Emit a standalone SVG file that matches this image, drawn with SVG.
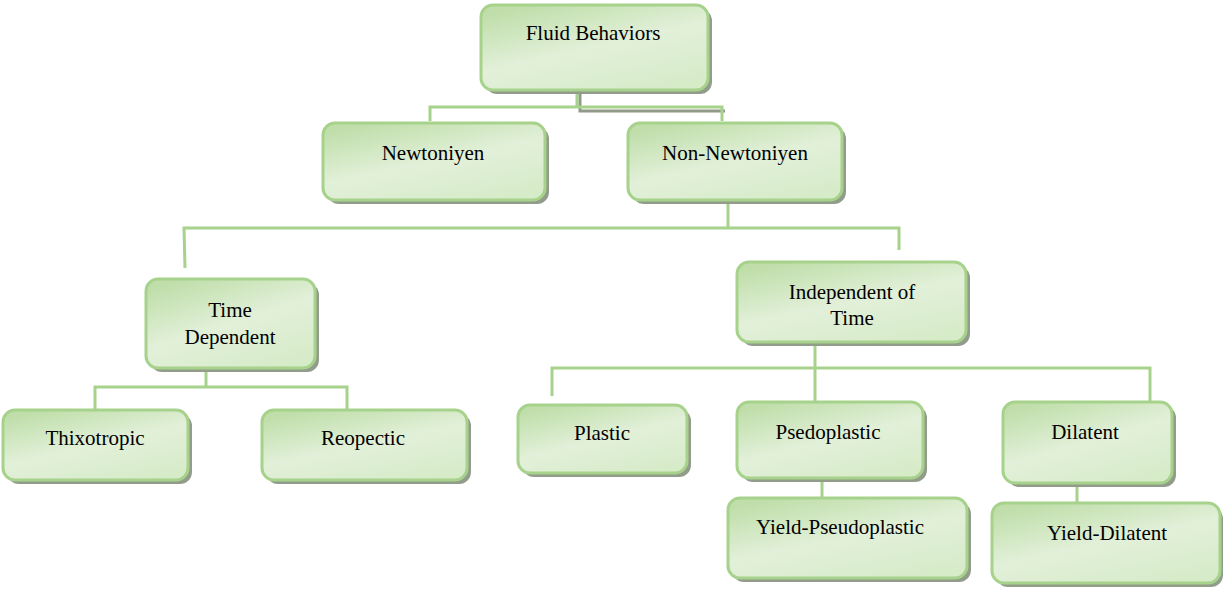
<svg xmlns="http://www.w3.org/2000/svg" width="1223" height="591" viewBox="0 0 1223 591">
  <defs>
    <linearGradient id="boxFill" x1="0.2" y1="0" x2="0.8" y2="1">
      <stop offset="0" stop-color="#bfdea9"/>
      <stop offset="0.5" stop-color="#e2f0d9"/>
      <stop offset="1" stop-color="#d6ebc8"/>
    </linearGradient>
  </defs>
  <style>
    .shadow { fill: #929c8b; }
    .box { fill: url(#boxFill); stroke: #a7d28c; stroke-width: 3; }
    .label { font-family: "Liberation Serif", Tinos, "Times New Roman", serif; font-size: 21px; fill: #000; text-anchor: middle; }
    .link { fill: none; stroke: #a7d28c; stroke-width: 3; }
    .linkShadow { fill: none; stroke: #8f9a88; stroke-width: 3; }
  </style>

  <rect width="1223" height="591" fill="#ffffff"/>

  <!-- connectors -->
  <g id="connectors">
    <polyline class="linkShadow" points="580,93 580,111 725,111"/>
    <polyline class="link" points="577,90 577,107"/>
    <polyline class="link" points="430,121 430,107 722,107 722,121"/>
    <polyline class="link" points="728,200 728,228"/>
    <polyline class="link" points="185,268 184,228 899,228 899,250"/>
    <polyline class="link" points="206,368 206,387"/>
    <polyline class="link" points="95,409 95,387 347,387 347,409"/>
    <polyline class="link" points="815,342 815,401"/>
    <polyline class="link" points="552,396 552,368 1150,368 1150,401"/>
    <polyline class="link" points="822,478 822,498"/>
    <polyline class="link" points="1077,483 1077,503"/>
  </g>

  <!-- nodes -->
  <g id="node-fluid">
    <rect class="shadow" x="485" y="9" width="227" height="85" rx="12"/>
    <rect class="box" x="481" y="5" width="227" height="85" rx="12"/>
    <text class="label" x="593" y="40">Fluid Behaviors</text>
  </g>
  <g id="node-newtoniyen">
    <rect class="shadow" x="327" y="127" width="222" height="77" rx="12"/>
    <rect class="box" x="323" y="123" width="222" height="77" rx="12"/>
    <text class="label" x="433" y="160">Newtoniyen</text>
  </g>
  <g id="node-non-newtoniyen">
    <rect class="shadow" x="632" y="127" width="214" height="77" rx="12"/>
    <rect class="box" x="628" y="123" width="214" height="77" rx="12"/>
    <text class="label" x="735" y="160">Non-Newtoniyen</text>
  </g>
  <g id="node-time-dependent">
    <rect class="shadow" x="150" y="283" width="169" height="89" rx="12"/>
    <rect class="box" x="146" y="279" width="169" height="89" rx="12"/>
    <text class="label" x="230" y="317">Time</text>
    <text class="label" x="230" y="344">Dependent</text>
  </g>
  <g id="node-independent">
    <rect class="shadow" x="741" y="266" width="229" height="80" rx="12"/>
    <rect class="box" x="737" y="262" width="229" height="80" rx="12"/>
    <text class="label" x="852" y="299">Independent of</text>
    <text class="label" x="852" y="325">Time</text>
  </g>
  <g id="node-thixotropic">
    <rect class="shadow" x="7" y="414" width="185" height="70" rx="12"/>
    <rect class="box" x="3" y="410" width="185" height="70" rx="12"/>
    <text class="label" x="95" y="445">Thixotropic</text>
  </g>
  <g id="node-reopectic">
    <rect class="shadow" x="266" y="414" width="205" height="70" rx="12"/>
    <rect class="box" x="262" y="410" width="205" height="70" rx="12"/>
    <text class="label" x="363" y="445">Reopectic</text>
  </g>
  <g id="node-plastic">
    <rect class="shadow" x="522" y="409" width="169" height="68" rx="12"/>
    <rect class="box" x="518" y="405" width="169" height="68" rx="12"/>
    <text class="label" x="602" y="440">Plastic</text>
  </g>
  <g id="node-psedoplastic">
    <rect class="shadow" x="741" y="406" width="186" height="76" rx="12"/>
    <rect class="box" x="737" y="402" width="186" height="76" rx="12"/>
    <text class="label" x="828" y="439">Psedoplastic</text>
  </g>
  <g id="node-dilatent">
    <rect class="shadow" x="1007" y="406" width="169" height="81" rx="12"/>
    <rect class="box" x="1003" y="402" width="169" height="81" rx="12"/>
    <text class="label" x="1085" y="439">Dilatent</text>
  </g>
  <g id="node-yield-pseudoplastic">
    <rect class="shadow" x="732" y="502" width="239" height="80" rx="12"/>
    <rect class="box" x="728" y="498" width="239" height="80" rx="12"/>
    <text class="label" x="840" y="534">Yield-Pseudoplastic</text>
  </g>
  <g id="node-yield-dilatent">
    <rect class="shadow" x="996" y="507" width="227" height="80" rx="12"/>
    <rect class="box" x="992" y="503" width="228" height="80" rx="12"/>
    <text class="label" x="1107" y="540">Yield-Dilatent</text>
  </g>
</svg>
